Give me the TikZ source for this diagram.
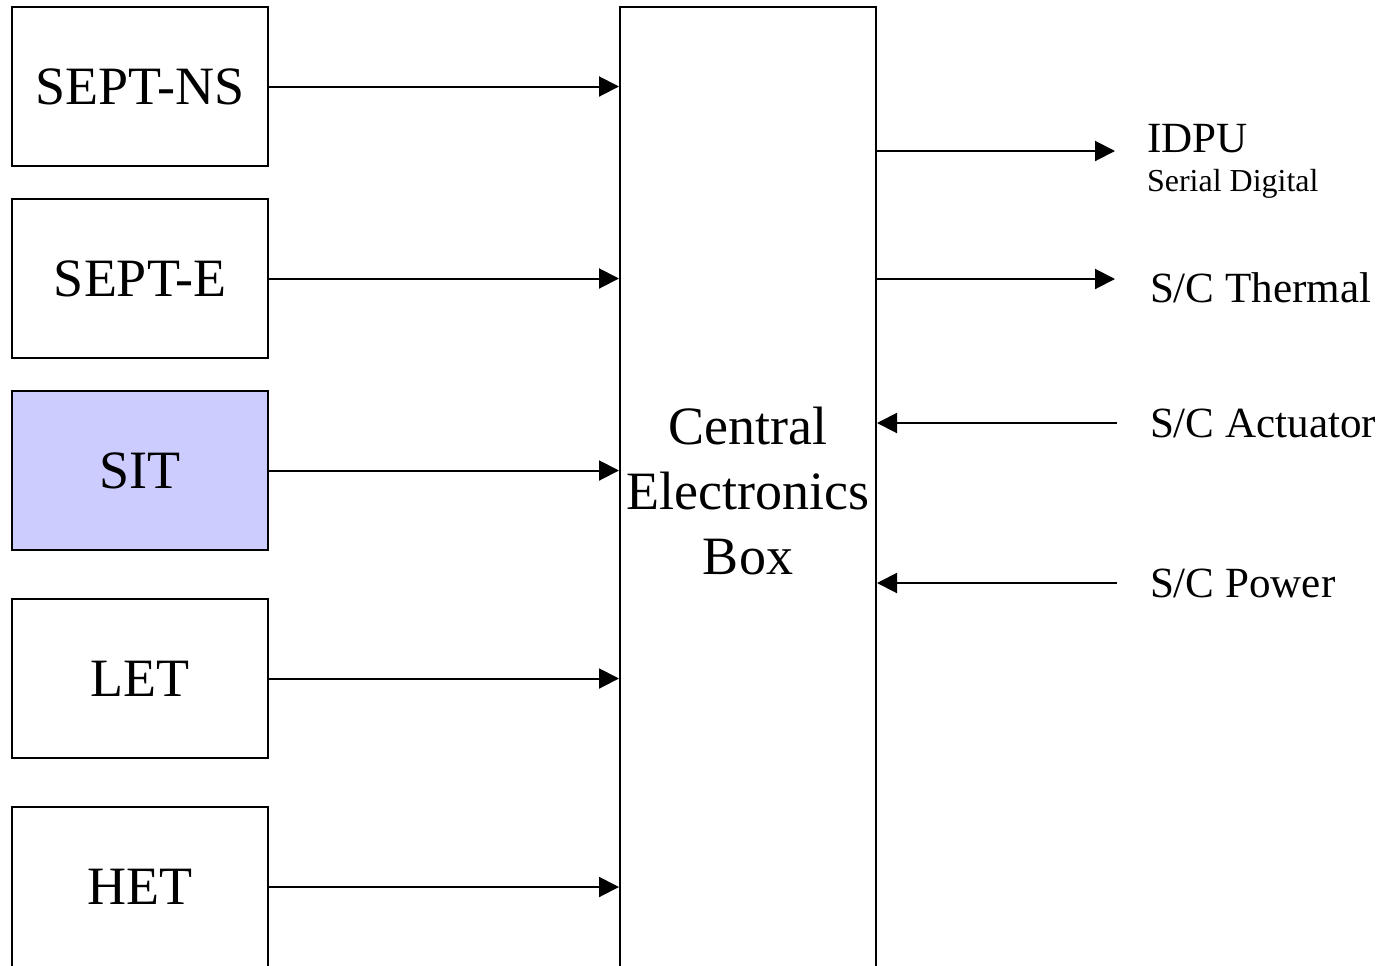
\documentclass[tikz,border=0pt]{standalone}
\usepackage{fontspec}
\setmainfont{Liberation Serif}
\usetikzlibrary{arrows.meta,positioning}
\definecolor{sitfill}{HTML}{CCCCFF}

\begin{document}
\begin{tikzpicture}[>={Triangle[length=15pt,width=15pt]},x=0.75pt,y=-0.75pt,line width=1.5pt,
 inst/.style={draw,minimum width=192pt,minimum height=119.5pt,inner sep=0pt,font=\fontsize{40.5}{48}\selectfont},
 cebox/.style={draw,minimum width=192pt,minimum height=726pt,inner sep=0pt,align=center,font=\fontsize{40.5}{48.5}\selectfont},
 lab/.style={anchor=base west,inner sep=0pt,font=\fontsize{32.3}{38}\selectfont}]
\clip (0,0) rectangle (1392,965);
% instruments
\node[inst] (ns) at (140,86.5) {SEPT-NS};
\node[inst] (se) at (140,278.5) {SEPT-E};
\node[inst,fill=sitfill] (sit) at (140,470.5) {SIT};
\node[inst] (let) at (140,678.5) {LET};
\node[inst] (het) at (140,887) {HET};
% central box
\node[cebox] (ceb) at (748,491) {Central\\Electronics\\Box};
% spacecraft side
\node[lab] (idpu) at (1146,152) {IDPU};
\node[lab,font=\fontsize{24}{28}\selectfont] (serial) at (1146,191) {Serial Digital};
\node[lab] (therm) at (1149,302) {S/C Thermal};
\node[lab] (act) at (1149,437) {S/C Actuator};
\node[lab] (pwr) at (1149,597) {S/C Power};
\coordinate (toidpu) at (1115,151);
\coordinate (totherm) at (1115,279);
\coordinate (fromact) at (1117,423);
\coordinate (frompwr) at (1117,583);
% connections
\foreach \n in {ns,se,sit,let,het}
  \draw[->] (\n.east) -- (\n.east -| ceb.west);
\draw[->] (ceb.east |- toidpu) -- (toidpu);
\draw[->] (ceb.east |- totherm) -- (totherm);
\draw[->] (fromact) -- (fromact -| ceb.east);
\draw[->] (frompwr) -- (frompwr -| ceb.east);
\end{tikzpicture}
\end{document}
